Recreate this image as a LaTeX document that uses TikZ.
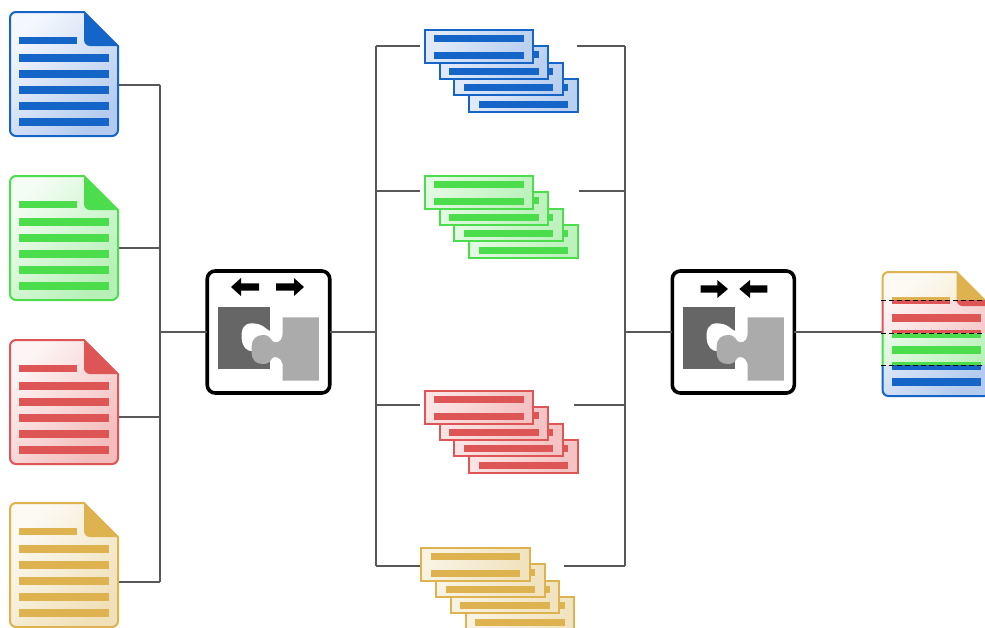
\documentclass[tikz,border=0pt]{standalone}
\definecolor{bluemain}{HTML}{1565C8}\definecolor{bluelight}{HTML}{B4CBEF}
\definecolor{greenmain}{HTML}{4CDD4C}\definecolor{greenlight}{HTML}{B6F0B6}
\definecolor{redmain}{HTML}{DE5555}\definecolor{redlight}{HTML}{F4BCBC}
\definecolor{goldmain}{HTML}{DDB24F}\definecolor{goldlight}{HTML}{EFE0B8}
\definecolor{darkpiece}{HTML}{666666}\definecolor{lightpiece}{HTML}{ABABAB}
\definecolor{wire}{HTML}{585858}
\tikzset{
  wireline/.style={draw=wire,line width=1.1pt},
  iconbox/.style={draw=black,fill=white,line width=3.6pt,rounded corners=8pt,outer sep=0pt,inner sep=0pt,minimum width=122.5pt,minimum height=122pt}
}
% #1 x, #2 y, #3 colour prefix
\newcommand{\docshape}[3]{%
  \begin{scope}[shift={(#1,#2)}]
    \shade[top color=#3light!15,bottom color=#3light,shading angle=45]
      (0,62) [rounded corners=6pt] -- (0,0) [sharp corners] -- (74,0) -- (108,34) [rounded corners=6pt] -- (108,124) -- (0,124) [sharp corners] -- cycle;
    \draw[#3main,line width=2pt]
      (0,62) [rounded corners=6pt] -- (0,0) [sharp corners] -- (74,0) -- (108,34) [rounded corners=6pt] -- (108,124) -- (0,124) [sharp corners] -- cycle;
    \fill[#3main] (74,0) -- (108,34) [rounded corners=6pt] -- (74,34) [sharp corners] -- cycle;
    \fill[#3main] (9,24.8) rectangle (67,32.2);
    \foreach \yy in {42.2,58.2,74.2,90.2,106.2}{\fill[#3main] (9,\yy) rectangle (98.5,\yy+7.5);}
  \end{scope}}
% #1 x, #2 y, #3 colour prefix
\newcommand{\slipshape}[3]{%
  \begin{scope}[shift={(#1,#2)}]
    \shade[top color=#3light!40,bottom color=#3light!90,shading angle=60] (0,0) rectangle (108.5,32.5);
    \draw[#3main,line width=2pt] (0,0) rectangle (108.5,32.5);
    \fill[#3main] (9.5,4.8) rectangle (99,11.9);
    \fill[#3main] (9.5,21.5) rectangle (99,28.5);
  \end{scope}}
% #1 x, #2 y, #3 colour prefix
\newcommand{\slipstack}[3]{%
  \slipshape{#1+44.5}{#2+49}{#3}
  \slipshape{#1+29.7}{#2+32.7}{#3}
  \slipshape{#1+15}{#2+16.4}{#3}
  \slipshape{#1}{#2}{#3}}
% puzzle, drawn in units of a third of a pixel from #1,#2
\newcommand{\puzzle}[2]{%
  \begin{scope}[shift={(#1,#2)},x=0.3333pt,y=-0.3333pt]
    \fill[darkpiece] (68,140) rectangle (226,327);
    \fill[white] (226,214) .. controls (212,208) and (205,190) .. (170,190)
      .. controls (145,190) and (138,210) .. (140,235)
      .. controls (142,262) and (155,274) .. (175,274) -- (226,290) -- cycle;
    \fill[white] (226,200) rectangle (263,340);
    \fill[lightpiece] (263,172) -- (372,172) -- (372,362) -- (263,362) -- (263,325)
      .. controls (266,300) and (250,290) .. (238,291)
      .. controls (225,293) and (232,312) .. (203,312)
      .. controls (183,312) and (170,300) .. (170,278)
      -- (170,258) .. controls (170,238) and (185,225) .. (203,225)
      .. controls (232,225) and (225,246) .. (240,247)
      .. controls (256,248) and (264,235) .. (263,215) -- cycle;
  \end{scope}}
\newcommand{\blockarrow}[4]{% tip x, head base x, tail x, centre y
  \fill[black] (#1,#4) -- (#2,#4-9) -- (#2,#4-3.7) -- (#3,#4-3.7) -- (#3,#4+3.7) -- (#2,#4+3.7) -- (#2,#4+9) -- cycle;}
\begin{document}
\begin{tikzpicture}[x=1pt,y=-1pt]
  \clip (0,0) rectangle (985,627);
  \fill[white] (0,0) rectangle (985,627);
  % connection points
  \coordinate (d1) at (118,85);
  \coordinate (d2) at (118,248);
  \coordinate (d3) at (118,417);
  \coordinate (d4) at (118,582);
  \coordinate (b1) at (160,85);
  \coordinate (b2) at (160,248);
  \coordinate (b3) at (160,417);
  \coordinate (b4) at (160,582);
  \coordinate (bm) at (160,332);
  \coordinate (s) at (376,332);
  \coordinate (s1) at (376,46);
  \coordinate (s2) at (376,191);
  \coordinate (s3) at (376,405);
  \coordinate (s4) at (376,566);
  \coordinate (si1) at (420,46);
  \coordinate (si2) at (420,191);
  \coordinate (si3) at (420,405);
  \coordinate (si4) at (420,566);
  \coordinate (so1) at (577,46);
  \coordinate (so2) at (579,191);
  \coordinate (so3) at (574,405);
  \coordinate (so4) at (564,566);
  \coordinate (m) at (625,332);
  \coordinate (m1) at (625,46);
  \coordinate (m2) at (625,191);
  \coordinate (m3) at (625,405);
  \coordinate (m4) at (625,566);
  \node[iconbox] (split) at (268.5,332) {};
  \node[iconbox,minimum width=122pt] (merge) at (733.3,332) {};
  \coordinate (result) at (882,332);
  % connectors
  \draw[wireline] (d1) -- (b1) (d2) -- (b2) (d3) -- (b3) (d4) -- (b4);
  \draw[wireline] (b1) -- (b4);
  \draw[wireline] (bm) -- (split.west);
  \draw[wireline] (split.east) -- (s);
  \draw[wireline] (s1) -- (s4);
  \draw[wireline] (s1) -- (si1) (s2) -- (si2) (s3) -- (si3) (s4) -- (si4);
  \draw[wireline] (so1) -- (m1) (so2) -- (m2) (so3) -- (m3) (so4) -- (m4);
  \draw[wireline] (m1) -- (m4);
  \draw[wireline] (m) -- (merge.west);
  \draw[wireline] (merge.east) -- (result);
  % source documents
  \docshape{10}{12}{blue}
  \docshape{10}{176}{green}
  \docshape{10}{340}{red}
  \docshape{10}{503}{gold}
  % split icon
  \blockarrow{231}{241}{259}{287}
  \blockarrow{304}{294}{276}{287}
  \puzzle{195}{260}
  % slips
  \slipstack{424.7}{30}{blue}
  \slipstack{424.7}{176}{green}
  \slipstack{424.7}{391}{red}
  \slipstack{421}{548}{gold}
  % merge icon
  \blockarrow{728}{717.3}{700.7}{289}
  \blockarrow{739.3}{750}{767.3}{289}
  \puzzle{660}{260}
  % merged document, one band per source
  \begin{scope}\clip (870,260) rectangle (1000,300);\docshape{882.5}{272}{gold}\end{scope}
  \begin{scope}\clip (870,300) rectangle (1000,333);\docshape{882.5}{272}{red}\end{scope}
  \begin{scope}\clip (870,333) rectangle (1000,365);\docshape{882.5}{272}{green}\end{scope}
  \begin{scope}\clip (870,365) rectangle (1000,410);\docshape{882.5}{272}{blue}\end{scope}
  \draw[black,line width=0.7pt,dash pattern=on 5pt off 3pt] (881,300) -- (985,300);
  \draw[black,line width=0.7pt,dash pattern=on 5pt off 3pt] (881,333) -- (985,333);
  \draw[black,line width=0.7pt,dash pattern=on 5pt off 3pt] (881,365) -- (985,365);
\end{tikzpicture}
\end{document}
